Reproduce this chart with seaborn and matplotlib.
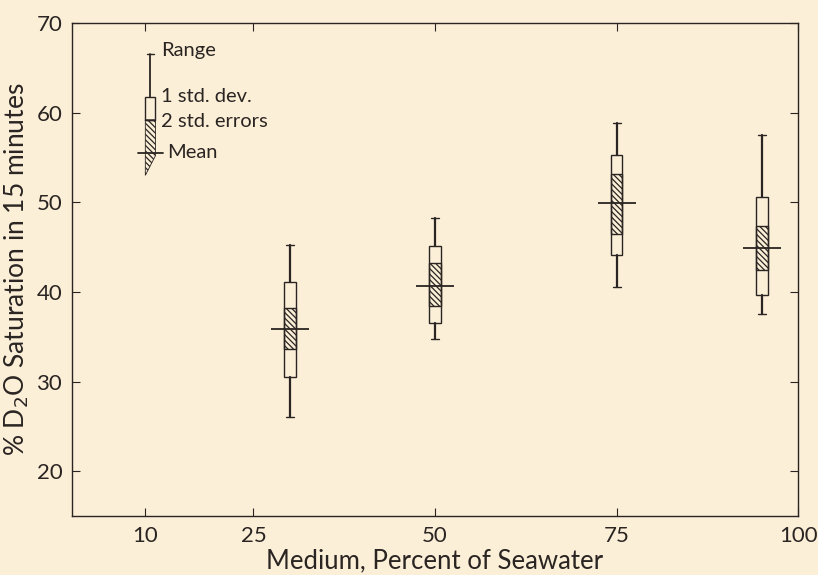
import matplotlib
matplotlib.use("Agg")
import matplotlib.pyplot as plt
from matplotlib.patches import Rectangle, Polygon
import seaborn as sns
import pandas as pd

# ---- data ----
medium = [30, 50, 75, 95]
range_lo = [26.0, 34.8, 40.5, 37.5]
range_hi = [45.2, 48.3, 58.8, 57.5]
sd_lo = [30.5, 36.5, 44.1, 39.6]
sd_hi = [41.1, 45.1, 55.3, 50.6]
se_lo = [33.6, 38.4, 46.5, 42.4]
se_hi = [38.2, 43.2, 53.2, 47.4]
means = [35.9, 40.7, 49.9, 44.9]

# legend key values
key_x = 10.8
key_range_hi = 66.5
key_sd_hi = 61.8
key_se_hi = 59.2
key_se_lo_left = 53.0
key_se_lo_right = 55.2
key_mean = 55.5

xticks = [10, 25, 50, 75, 100]
yticks = [20, 30, 40, 50, 60, 70]

df = pd.DataFrame(dict(medium=medium, mean=means))

bg = "#FCEFD8"
ink = "#2a2522"
sns.set_style("ticks", {"axes.facecolor": bg, "figure.facecolor": bg,
                        "axes.edgecolor": ink, "xtick.color": ink, "ytick.color": ink,
                        "xtick.direction": "in", "ytick.direction": "in"})
plt.rcParams["font.family"] = ["Lato", "DejaVu Sans"]
plt.rcParams["hatch.linewidth"] = 0.9
plt.rcParams["hatch.color"] = ink

fig = plt.figure(figsize=(8.18, 5.75), dpi=100)
ax = fig.add_axes([0.088, 0.1026, 0.8876, 0.8574])

bw = 1.6
cw = 1.1
hatch = "\\" * 6
for x, rl, rh, sl, sh, el, eh, m in zip(medium, range_lo, range_hi, sd_lo, sd_hi,
                                         se_lo, se_hi, means):
    ax.plot([x, x], [rl, sl], color=ink, lw=1.6, zorder=2)
    ax.plot([x, x], [sh, rh], color=ink, lw=1.6, zorder=2)
    ax.plot([x - cw / 2, x + cw / 2], [rl, rl], color=ink, lw=1.0)
    ax.plot([x - cw / 2, x + cw / 2], [rh, rh], color=ink, lw=1.0)
    ax.add_patch(Rectangle((x - bw / 2, sl), bw, sh - sl, facecolor="none",
                           edgecolor=ink, lw=1.0, zorder=3))
    ax.add_patch(Rectangle((x - bw / 2, el), bw, eh - el, facecolor="none",
                           edgecolor=ink, lw=1.0, hatch=hatch, zorder=3))

sns.scatterplot(data=df, x="medium", y="mean", marker="_", s=780, color=ink,
                linewidth=1.3, ax=ax, zorder=4, legend=False)

# legend key
kb = 1.4
ax.plot([key_x, key_x], [key_sd_hi, key_range_hi], color=ink, lw=1.3)
ax.plot([key_x - 0.45, key_x + 0.45], [key_range_hi, key_range_hi], color=ink, lw=1.0)
ax.add_patch(Rectangle((key_x - kb / 2, key_se_hi), kb, key_sd_hi - key_se_hi,
                       facecolor="none", edgecolor=ink, lw=1.0))
ax.add_patch(Polygon([(key_x - kb / 2, key_se_hi), (key_x + kb / 2, key_se_hi),
                      (key_x + kb / 2, key_se_lo_right), (key_x - kb / 2, key_se_lo_left)],
                     closed=True, facecolor="none", edgecolor=ink, lw=0.6,
                     hatch=hatch))
ax.plot([key_x - kb / 2, key_x + kb / 2], [key_se_hi, key_se_hi], color=ink, lw=1.0)
ax.plot([key_x - 1.7, key_x + 1.7], [key_mean, key_mean], color=ink, lw=1.3)
tfs = 14.5
ax.text(12.3, key_range_hi + 0.4, "Range", fontsize=tfs, color=ink, va="center")
ax.text(12.3, key_sd_hi, "1 std. dev.", fontsize=tfs, color=ink, va="center")
ax.text(12.3, 59.0, "2 std. errors", fontsize=tfs, color=ink, va="center")
ax.text(13.1, key_mean, "Mean", fontsize=tfs, color=ink, va="center")

ax.set_xlim(0, 100)
ax.set_ylim(15, 70)
ax.set_xticks(xticks)
ax.set_yticks(yticks)
ax.tick_params(axis="both", which="both", top=True, right=True, labelsize=16,
               length=6, width=0.8, pad=7)
for s in ax.spines.values():
    s.set_visible(True)
    s.set_linewidth(1.0)
ax.set_xlabel("Medium, Percent of Seawater", fontsize=18.5, color=ink, labelpad=2)
ax.set_ylabel("% D$_2$O Saturation in 15 minutes", fontsize=19, color=ink, labelpad=4)

fig.savefig("out.png", dpi=100, facecolor=bg)
